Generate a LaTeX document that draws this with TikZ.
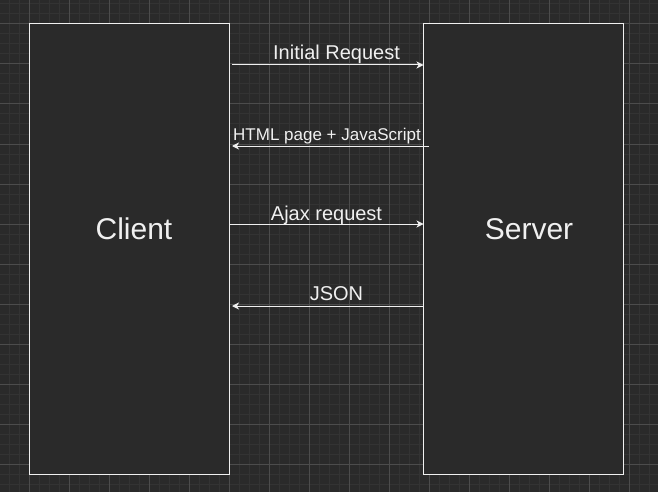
\documentclass[tikz,border=0pt]{standalone}
\usepackage{fontspec}
\setmainfont{Liberation Sans}
\usetikzlibrary{arrows.meta}
\definecolor{bg}{HTML}{2A2A2A}
\definecolor{minorc}{HTML}{333333}
\definecolor{majorc}{HTML}{4C4C4C}
\definecolor{fg}{HTML}{F0F0F0}
\tikzset{
 box/.style={draw=fg, fill=bg, line width=1pt, minimum width=200pt, minimum height=450pt, inner sep=0pt, outer sep=0pt},
 arr/.style={draw=fg, line width=1pt, -{Stealth[length=7pt,width=7pt,inset=2pt]}},
 lbl/.style={text=fg, inner sep=0pt, anchor=base, font=\fontsize{20}{24}\selectfont},
 smalllbl/.style={lbl, font=\fontsize{17}{20}\selectfont},
 big/.style={text=fg, inner sep=0pt, anchor=base, font=\fontsize{30}{36}\selectfont},
 minorline/.style={draw=minorc, line width=1pt},
 majorline/.style={draw=majorc, line width=1pt},
}
\begin{document}
\begin{tikzpicture}[x=1pt,y=-1pt]
\fill[bg] (0,0) rectangle (658,492);
\useasboundingbox (0,0) rectangle (658,492);
\foreach \x in {9,19,...,649} \draw[minorline] (\x,0) -- (\x,492);
\foreach \y in {4,14,...,484} \draw[minorline] (0,\y) -- (658,\y);
\foreach \x in {29,69,...,629} \draw[majorline] (\x,0) -- (\x,492);
\foreach \y in {24,64,...,464} \draw[majorline] (0,\y) -- (658,\y);

\node[box] (client) at (129,249) {};
\node[box] (server) at (523.5,249) {};
\node[big] (clientlbl) at (134,239) {Client};
\node[big] (serverlbl) at (529,239) {Server};

\draw[arr, shorten <=3pt] (client.east |- 0,65) -- (server.west |- 0,65);
\node[lbl] (t1) at (336.5,60) {Initial Request};

\draw[arr, shorten <=-5.5pt, shorten >=3pt] (server.west |- 0,146) -- (client.east |- 0,146);
\node[smalllbl] (t2) at (327,140) {HTML page + JavaScript};

\draw[arr] (client.east |- 0,224) -- (server.west |- 0,224);
\node[lbl] (t3) at (326.5,220.5) {Ajax request};

\draw[arr, shorten >=3pt] (server.west |- 0,306) -- (client.east |- 0,306);
\node[lbl] (t4) at (336.5,300) {JSON};
\end{tikzpicture}
\end{document}
